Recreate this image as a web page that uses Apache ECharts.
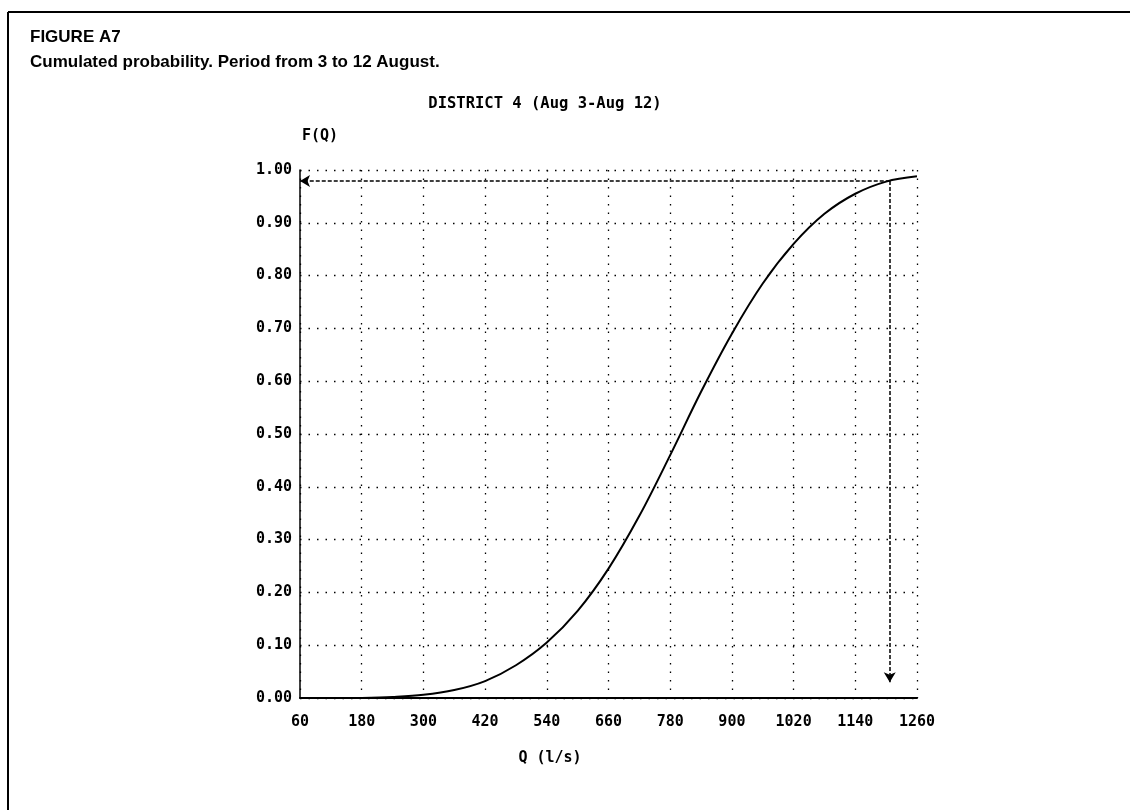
<!DOCTYPE html>
<html>
<head>
<meta charset="utf-8">
<title>Figure A7</title>
<script src="https://cdn.jsdelivr.net/npm/echarts@6/dist/echarts.min.js"></script>
<style>
  html, body { margin: 0; padding: 0; background: #fff; }
  #chart { width: 1130px; height: 810px; }
</style>
</head>
<body>
<div id="chart"></div>
<script>
// discharge Q (l/s) and cumulated probability F(Q)
var qValues = [180, 240, 300, 360, 420, 480, 540, 600, 660, 720, 780, 840, 900, 960, 1020, 1080, 1140, 1200, 1260];
var fValues = [0.000, 0.002, 0.006, 0.015, 0.032, 0.062, 0.105, 0.165, 0.245, 0.345, 0.460, 0.580, 0.690, 0.785, 0.860, 0.917, 0.955, 0.978, 0.988];

// reading arrows (Q at design probability)
var readQ = 1207;
var readF = 0.979;
var arrowEndF = 0.03;

var xTicks = { min: 60, max: 1260, step: 120 };
var yTicks = { min: 0, max: 1, step: 0.1 };

var monoFont = '"DejaVu Sans Mono", monospace';

var curve = qValues.map(function (q, i) { return [q, fValues[i]]; });

var myChart = echarts.init(document.getElementById('chart'));

var option = {
    backgroundColor: '#fff',
    animation: false,
    title: [
        {
            text: 'FIGURE A7',
            left: 25, top: 24,
            textStyle: { fontFamily: '"Liberation Sans", Arial', fontWeight: 'bold', fontSize: 17, color: '#000' }
        },
        {
            text: 'Cumulated probability. Period from 3 to 12 August.',
            left: 25, top: 49,
            textStyle: { fontFamily: '"Liberation Sans", Arial', fontWeight: 'bold', fontSize: 17, color: '#000' }
        },
        {
            text: 'DISTRICT 4 (Aug 3-Aug 12)',
            left: 540, top: 91, textAlign: 'center',
            textStyle: { fontFamily: monoFont, fontWeight: 'bold', fontSize: 15.5, color: '#000' }
        },
        {
            text: 'F(Q)',
            left: 297, top: 124,
            textStyle: { fontFamily: monoFont, fontWeight: 'bold', fontSize: 15, color: '#000' }
        },
        {
            text: 'Q (l/s)',
            left: 545, top: 746, textAlign: 'center',
            textStyle: { fontFamily: monoFont, fontWeight: 'bold', fontSize: 15, color: '#000' }
        }
    ],
    // page frame (top and left edges)
    graphic: [
        { type: 'line', shape: { x1: 8, y1: 12, x2: 1130, y2: 12 }, style: { stroke: '#000', lineWidth: 2 } },
        { type: 'line', shape: { x1: 8, y1: 12, x2: 8, y2: 810 }, style: { stroke: '#000', lineWidth: 2 } }
    ],
    grid: { left: 300, right: 213, top: 170, bottom: 112 },
    xAxis: {
        type: 'value',
        min: xTicks.min,
        max: xTicks.max,
        interval: xTicks.step,
        axisLine: { show: true, onZero: false, lineStyle: { color: '#000', width: 2 } },
        axisTick: { show: false },
        axisLabel: {
            color: '#000', fontFamily: monoFont, fontWeight: 'bold', fontSize: 15, margin: 17,
            showMinLabel: true, showMaxLabel: true,
            formatter: function (v) { return String(v); }
        },
        splitLine: { show: true, lineStyle: { color: '#000', width: 1.3, type: [1.5, 7] } }
    },
    yAxis: {
        type: 'value',
        min: yTicks.min,
        max: yTicks.max,
        interval: yTicks.step,
        axisLine: { show: true, lineStyle: { color: '#000', width: 1.5 } },
        axisTick: { show: false },
        axisLabel: {
            color: '#000', fontFamily: monoFont, fontWeight: 'bold', fontSize: 15, margin: 8,
            formatter: function (v) { return v.toFixed(2); }
        },
        splitLine: { show: true, lineStyle: { color: '#000', width: 1.3, type: [1.5, 7] } }
    },
    series: [
        {
            type: 'line',
            data: curve,
            smooth: 0.35,
            showSymbol: false,
            lineStyle: { color: '#000', width: 2 },
            markLine: {
                silent: true,
                symbol: ['none', 'arrow'],
                symbolSize: [9, 10],
                label: { show: false },
                lineStyle: { color: '#000', width: 1.5, type: [4, 2] },
                data: [
                    [{ coord: [readQ, readF] }, { coord: [xTicks.min, readF] }],
                    [{ coord: [readQ, readF] }, { coord: [readQ, arrowEndF] }]
                ]
            }
        }
    ]
};

myChart.setOption(option);
</script>
</body>
</html>
